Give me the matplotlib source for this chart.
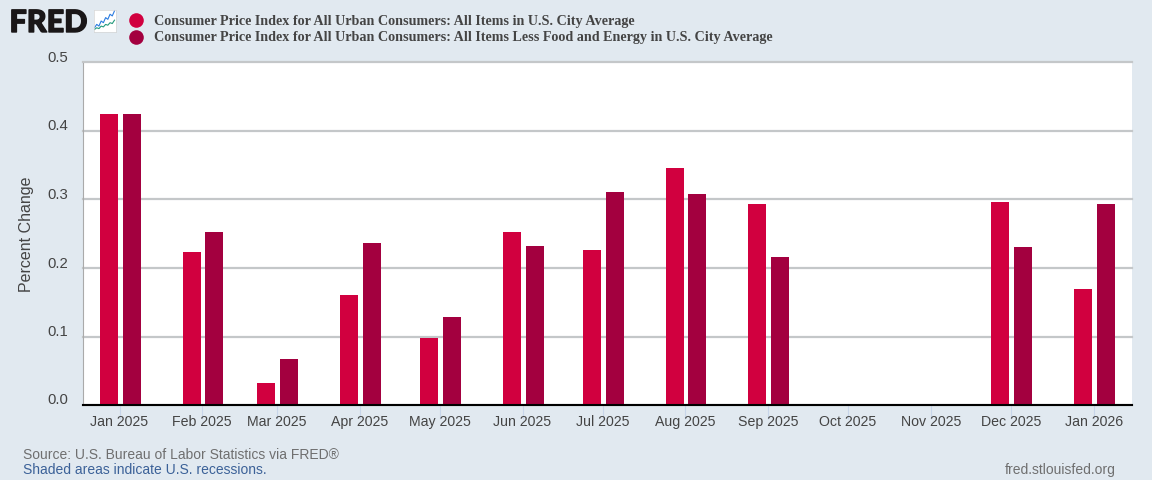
import datetime as dt
import matplotlib
matplotlib.use('Agg')
import matplotlib.pyplot as plt
import matplotlib.dates as mdates
import matplotlib.patheffects as pe
from matplotlib.lines import Line2D
from matplotlib.ticker import MultipleLocator
from matplotlib.transforms import ScaledTranslation

months = ['2025-01', '2025-02', '2025-03', '2025-04', '2025-05', '2025-06', '2025-07',
          '2025-08', '2025-09', '2025-10', '2025-11', '2025-12', '2026-01']
month_labels = ['Jan 2025', 'Feb 2025', 'Mar 2025', 'Apr 2025', 'May 2025', 'Jun 2025', 'Jul 2025',
                'Aug 2025', 'Sep 2025', 'Oct 2025', 'Nov 2025', 'Dec 2025', 'Jan 2026']
# Oct and Nov 2025 have no data
cpi_all = [0.425, 0.223, 0.032, 0.160, 0.098, 0.252, 0.226, 0.346, 0.293, None, None, 0.296, 0.169]
cpi_core = [0.425, 0.253, 0.067, 0.236, 0.128, 0.232, 0.311, 0.308, 0.216, None, None, 0.231, 0.293]
series_names = ['Consumer Price Index for All Urban Consumers: All Items in U.S. City Average',
                'Consumer Price Index for All Urban Consumers: All Items Less Food and Energy in U.S. City Average']
logo_blue = [1, 3, 2, 5, 4, 7, 6, 9, 8, 11]
logo_green = [0, 1, 0.5, 2, 1.5, 3, 2.5, 4, 3.5, 5.5]

W, H = 1152, 480
BG = '#e1e9f0'
RED = '#d1003f'
DARK = '#a3003f'
TEXT = '#444444'

plt.rcParams['font.family'] = ['Liberation Sans', 'DejaVu Sans']

fig = plt.figure(figsize=(W / 100, H / 100), dpi=100, facecolor=BG)
ax = fig.add_axes([83 / W, 1 - 405 / H, 1049 / W, 342.5 / H], facecolor='white')

dates = [mdates.date2num(dt.datetime.strptime(m, '%Y-%m')) for m in months]
width = 6.75
offset = 4.25
for d, a, b in zip(dates, cpi_all, cpi_core):
    if a is None:
        continue
    ax.bar(d + 0.3 - offset, a, width=width, color=RED, zorder=3)
    ax.bar(d + 0.3 + offset, b, width=width, color=DARK, zorder=3)

ax.set_xlim(dates[0] - 13.7, dates[-1] + 14.4)
ax.set_ylim(0, 0.5)
ax.yaxis.set_major_locator(MultipleLocator(0.1))
ax.set_xticks(dates)
ax.set_xticklabels(month_labels)
ax.grid(axis='y', color='#c4c7c9', linewidth=1.6, zorder=1)
ax.set_axisbelow(True)
for line in ax.get_ygridlines():
    line.set_clip_on(False)
ax.tick_params(axis='x', length=10, width=0.8, color='#c8d6ea', labelsize=10.2, labelcolor=TEXT, pad=-3)
ax.tick_params(axis='y', length=0, labelsize=10.7, labelcolor=TEXT, pad=10.9)
down = ScaledTranslation(0, -2.5 / 100, fig.dpi_scale_trans)
for lab in ax.get_yticklabels():
    lab.set_verticalalignment('bottom')
    lab.set_transform(lab.get_transform() + down)
ax.set_ylabel('Percent Change', fontsize=11.5, color=TEXT, labelpad=9.4)

for s in ['top', 'right']:
    ax.spines[s].set_visible(False)
ax.spines['left'].set_color('#aaaaaa')
ax.spines['left'].set_linewidth(0.8)
ax.spines['bottom'].set_color('black')
ax.spines['bottom'].set_linewidth(1.5)
ax.spines['bottom'].set_zorder(5)

# legend, placed by hand like the FRED header
for y, c, name in zip([20, 37], [RED, DARK], series_names):
    fig.add_artist(Line2D([135.5 / W], [1 - y / H], marker='o', markersize=10.5, color=c,
                          markeredgewidth=0, linestyle='none', transform=fig.transFigure))
    fig.text(153.5 / W, 1 - (y + 1) / H, name, family=['Liberation Serif', 'DejaVu Serif'], fontweight='bold',
             fontsize=10.13, color='#444444', va='center', ha='left')

# logo
fig.text(9.5 / W, 1 - 32 / H, 'FRED', family=['Lato', 'DejaVu Sans'], fontweight='black', fontsize=22,
         color='#1a1718', va='baseline', ha='left',
         path_effects=[pe.withStroke(linewidth=1.0, foreground='#1a1718')])
icon = fig.add_axes([93.5 / W, 1 - 32 / H, 22 / W, 22 / H], facecolor='white')
icon.plot(logo_blue, color='#2a7be0', linewidth=0.8)
icon.plot(logo_green, color='#239a7d', linewidth=0.8)
icon.set_xticks([])
icon.set_yticks([])
icon.set_ylim(-1.5, 11.5)
for s in icon.spines.values():
    s.set_color('#d5d5d5')
    s.set_linewidth(0.5)

# footer
fig.text(23 / W, 1 - 455 / H, 'Source: U.S. Bureau of Labor Statistics via FRED\u00ae', fontsize=10.03,
         color='#6f6f6f', va='center', ha='left')
fig.text(23 / W, 1 - 470 / H, 'Shaded areas indicate U.S. recessions.', fontsize=10.03,
         color='#3b6198', va='center', ha='left')
fig.text(1116 / W, 1 - 470 / H, 'fred.stlouisfed.org', fontsize=10.03,
         color='#6f6f6f', va='center', ha='right')

fig.savefig('out.png', dpi=100, facecolor=BG)
